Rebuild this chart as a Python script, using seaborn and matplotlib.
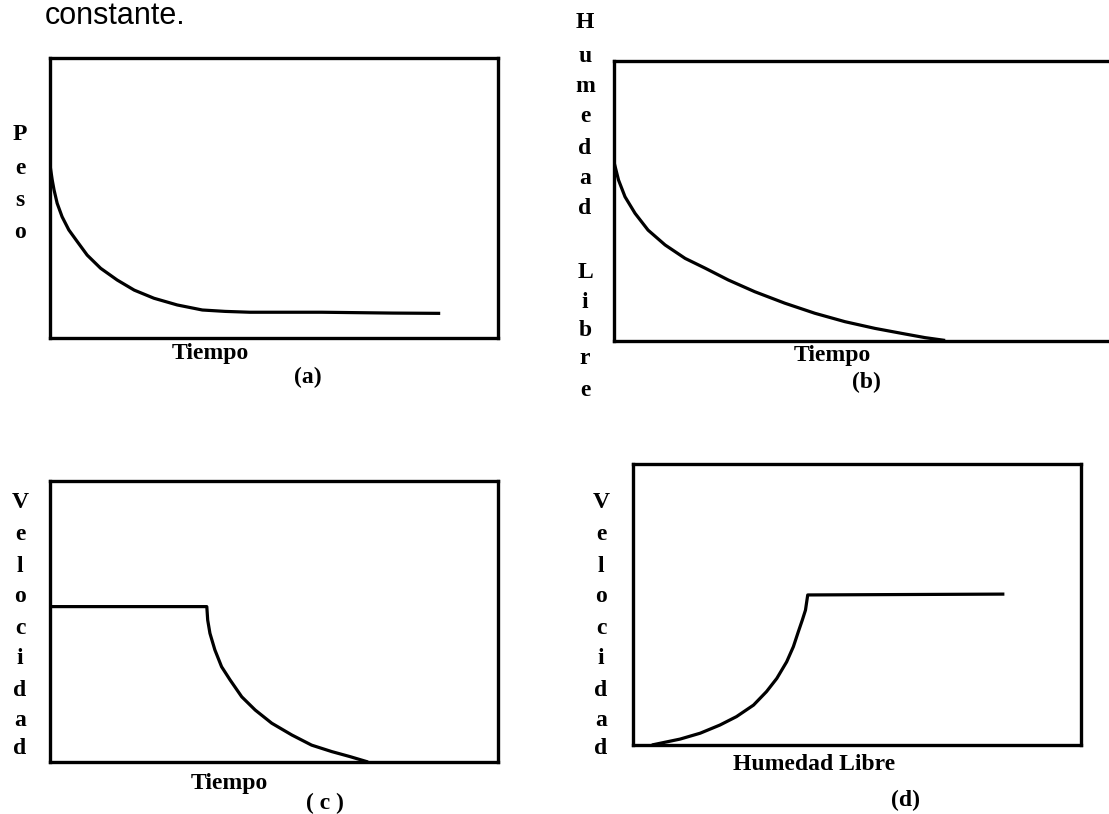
import matplotlib
matplotlib.use("Agg")
import matplotlib.pyplot as plt
import seaborn as sns
import pandas as pd

sns.set_theme(style="white")
plt.rcParams['font.family'] = ['Liberation Serif', 'DejaVu Serif']

# ---- data (axis units 0-100) ----
a_tiempo = [0.1, 0.5, 0.9, 1.6, 2.7, 4.2, 6.1, 8.3, 11.3, 15.0, 18.8, 23.2, 28.4,
            34.0, 39.1, 44.6, 60.6, 76.5, 87.1]
a_peso = [60.7, 56.4, 52.9, 48.1, 43.3, 38.6, 34.4, 29.6, 24.9, 20.7, 17.1, 14.2, 11.8,
          10.0, 9.5, 9.2, 9.2, 8.9, 8.8]

b_tiempo = [0.1, 0.9, 2.2, 4.2, 6.8, 10.2, 14.2, 18.2, 22.8, 28.1, 34.1, 40.1, 46.1,
            52.1, 58.1, 62.1, 66.1]
b_humedad = [63.2, 57.5, 51.5, 45.6, 39.6, 34.3, 29.5, 26.0, 21.8, 17.6, 13.5, 9.9, 6.9,
             4.5, 2.5, 1.2, 0.2]

c_tiempo = [0.0, 35.0, 35.2, 35.7, 36.8, 38.3, 40.2, 42.8, 45.8, 49.5, 54.0, 58.4,
            62.9, 67.0, 71.0]
c_velocidad = [55.3, 55.3, 50.5, 45.8, 39.9, 33.9, 29.2, 23.2, 18.5, 13.8, 9.6, 6.0,
               3.7, 1.9, 0.0]

d_humedad = [4.2, 6.0, 10.5, 15.0, 19.4, 23.1, 26.9, 29.8, 32.1, 34.3, 35.8, 36.9,
             37.8, 38.5, 39.0, 82.9]
d_velocidad = [0.0, 0.6, 2.1, 4.2, 7.1, 10.1, 14.2, 19.0, 23.7, 29.6, 35.0, 40.3,
               44.5, 48.0, 53.4, 53.7]

ylabels = {"a": "Peso", "b": "Humedad  Libre", "c": "Velocidad", "d": "Velocidad"}
xlabels = {"a": "Tiempo", "b": "Tiempo", "c": "Tiempo", "d": "Humedad Libre"}
tags = {"a": "(a)", "b": "(b)", "c": "( c )", "d": "(d)"}
heading = "constante."

W, H = 1109, 814
fig = plt.figure(figsize=(W / 100, H / 100), dpi=100)
fig.patch.set_facecolor("white")


def px_axes(left, top, right, bottom):
    return fig.add_axes([left / W, 1 - bottom / H, (right - left) / W, (bottom - top) / H])


axes = {
    "a": px_axes(50, 58, 498, 338),
    "b": px_axes(614, 61, 1115, 341),
    "c": px_axes(50, 481, 498, 762),
    "d": px_axes(633, 464, 1081, 745),
}
series = {
    "a": (a_tiempo, a_peso),
    "b": (b_tiempo, b_humedad),
    "c": (c_tiempo, c_velocidad),
    "d": (d_humedad, d_velocidad),
}

for k, ax in axes.items():
    x, y = series[k]
    df = pd.DataFrame({"x": x, "y": y})
    sns.lineplot(data=df, x="x", y="y", ax=ax, color="black", linewidth=2.3,
                 estimator=None, sort=False)
    for ln in ax.lines:
        ln.set_solid_joinstyle("round")
        ln.set_solid_capstyle("butt")
    ax.set_xlim(0, 100)
    ax.set_ylim(0, 100)
    ax.set_xticks([])
    ax.set_yticks([])
    ax.set_xlabel("")
    ax.set_ylabel("")
    ax.set_facecolor("white")
    for s in ax.spines.values():
        s.set_visible(True)
        s.set_color("black")
        s.set_linewidth(2.4)

fs = 17
def ftext(xp, yp, s, **kw):
    fig.text(xp / W, 1 - yp / H, s, fontsize=fs, color="black", ha="center",
             va="center", fontweight="bold", **kw)

# x labels and tags
ftext(210, 354, xlabels["a"])
ftext(308, 377, tags["a"])
ftext(832, 356, xlabels["b"])
ftext(866, 382, tags["b"])
ftext(229, 783, xlabels["c"])
ftext(325, 803, tags["c"])
ftext(814, 765, xlabels["d"])
ftext(905, 800, tags["d"])

# vertical stacked y labels
def stacked(xp, ys, word):
    letters = [c for c in word if c != " "]
    for c, yp in zip(letters, ys):
        ftext(xp, yp, c)

stacked(20, [135, 168, 200, 232], ylabels["a"])
stacked(585, [22, 56, 87, 117, 148, 178, 208, 272, 302, 330, 359, 390], ylabels["b"])
stacked(20, [503, 535, 567, 597, 628, 658, 690, 720, 748], ylabels["c"])
stacked(601, [503, 535, 567, 597, 628, 658, 690, 720, 748], ylabels["d"])

# heading (kept fully inside the figure)
fig.text(45 / W, 1 - 24 / H, heading, fontsize=22, family="Liberation Sans",
         ha="left", va="baseline", color="black")

fig.savefig("out.png", dpi=100, facecolor="white")
